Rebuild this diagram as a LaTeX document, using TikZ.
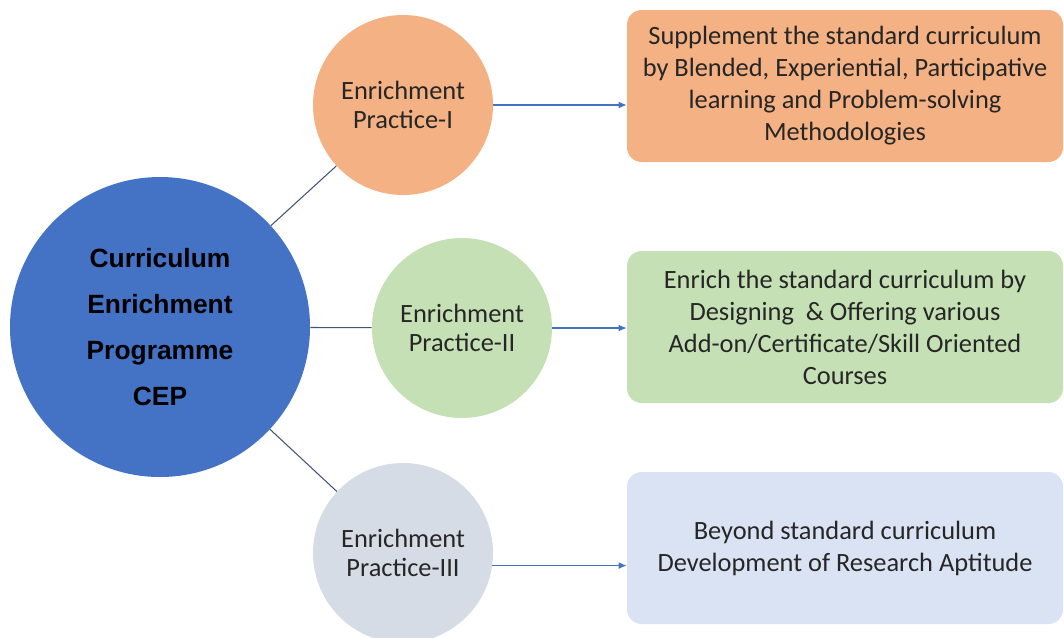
\documentclass[tikz,border=0pt]{standalone}
\usepackage{fontspec}
\setmainfont{Carlito}
\newfontfamily\headfont{Liberation Sans}
\usepackage{tikz}
\usetikzlibrary{shapes,arrows.meta}

\definecolor{cepblue}{RGB}{68,114,196}
\definecolor{peach}{RGB}{244,177,131}
\definecolor{sage}{RGB}{197,224,180}
\definecolor{mist}{RGB}{214,220,229}
\definecolor{icy}{RGB}{218,227,243}
\definecolor{slate}{RGB}{68,84,120}
\definecolor{inktext}{RGB}{38,38,38}

\begin{document}
\begin{tikzpicture}[x=0.75pt,y=0.75pt,yscale=-1,xscale=1,
    hub/.style={circle,fill=cepblue,minimum size=225pt,inner sep=0pt,align=center,
        font=\headfont\bfseries\fontsize{19.8}{34.5}\selectfont,text=black},
    practice/.style={circle,minimum size=135pt,inner sep=0pt,align=center,
        font=\fontsize{19.8}{22}\selectfont,text=inktext},
    detail/.style={rounded corners=11pt,minimum width=327pt,minimum height=114pt,
        inner sep=0pt,align=center,font=\fontsize{19.8}{24}\selectfont,text=inktext},
    spoke/.style={draw=slate,line width=0.8pt},
    feed/.style={draw=cepblue,line width=0.8pt,-{Latex[length=6pt,width=5pt]}}]
    \useasboundingbox (0,0) rectangle (1064,637);

    %Shape: Circle
    \node [hub] (cep) at (160,327) {Curriculum\\Enrichment\\Programme\\CEP};
    %Shape: Circle
    \node [practice,fill=peach] (p1) at (403,105) {Enrichment\\Practice-I};
    %Shape: Circle
    \node [practice,fill=sage] (p2) at (462,328) {Enrichment\\Practice-II};
    %Shape: Circle
    \node [practice,fill=mist] (p3) at (403,553) {Enrichment\\Practice-III};

    %Shape: Rounded Rect
    \node [detail,fill=peach] (s1) at (845,86) {Supplement the standard curriculum\\by Blended, Experiential, Participative\\learning and Problem-solving\\Methodologies};
    %Shape: Rounded Rect
    \node [detail,fill=sage] (s2) at (845,327) {Enrich the standard curriculum by\\Designing\ \ \& Offering various\\Add-on/Certificate/Skill Oriented\\Courses};
    %Shape: Rounded Rect
    \node [detail,fill=icy] (s3) at (845,548) {Beyond standard curriculum\\Development of Research Aptitude};

    %Straight Lines
    \draw [spoke] (cep) -- (p1);
    \draw [spoke] (cep) -- (p2);
    \draw [spoke] (cep) -- (p3);

    %Straight Lines
    \draw [feed] (p1.east) -- (p1.east -| s1.west);
    \draw [feed] (p2.east) -- (p2.east -| s2.west);
    \draw [feed] (p3.-8) -- (p3.-8 -| s3.west);
\end{tikzpicture}
\end{document}
